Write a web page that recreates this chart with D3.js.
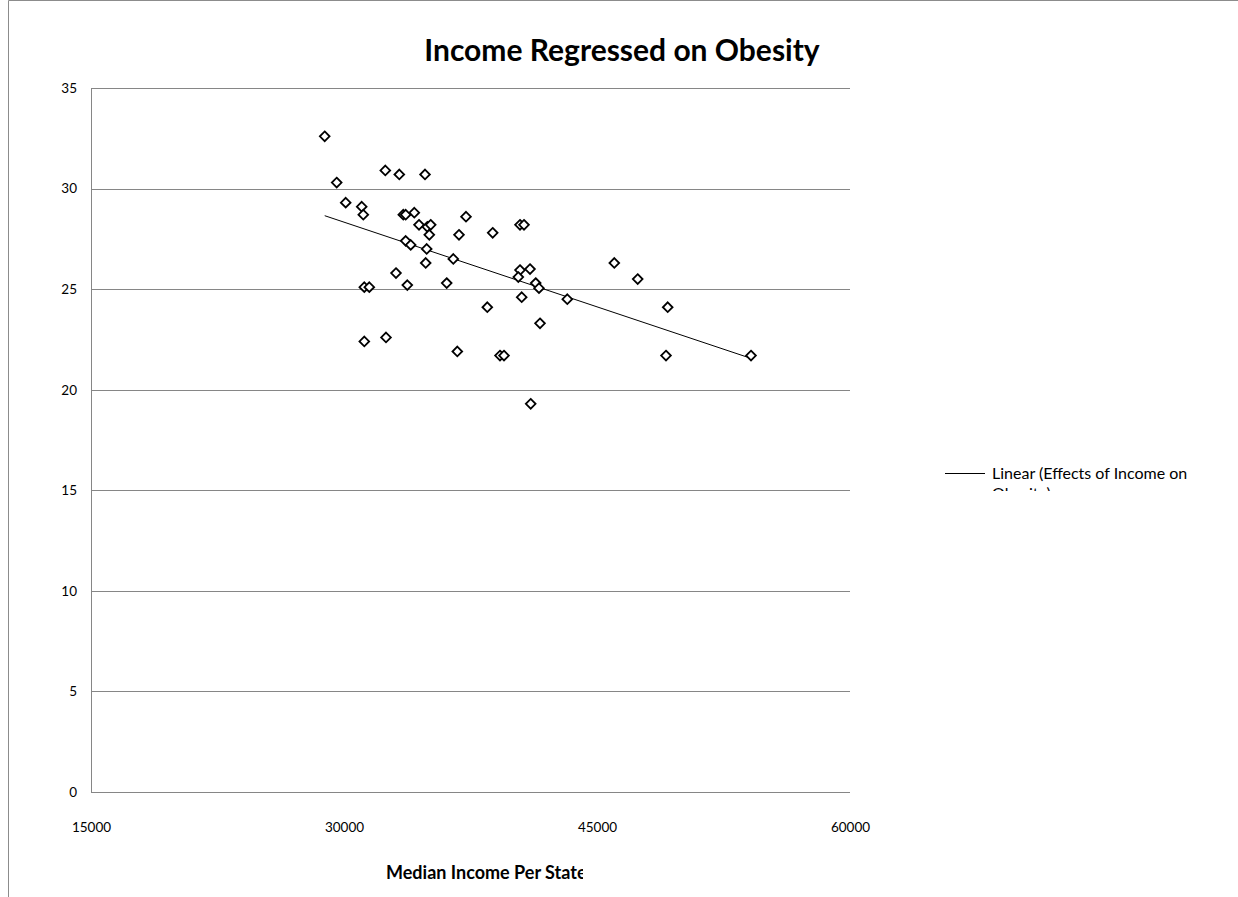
<!DOCTYPE html>
<html>
<head>
<meta charset="utf-8">
<script src="https://cdn.jsdelivr.net/npm/d3@7"></script>
<style>
  html, body { margin: 0; padding: 0; background: #fff; }
  svg { display: block; }
  text { font-family: Lato, "Open Sans", sans-serif; fill: #000; }
</style>
</head>
<body>
<svg id="chart" width="1238" height="897"></svg>
<script>
// Median household income per state (USD)
const income = [
  28856, 29567, 32449, 33279, 34803, 30101, 31050, 31144, 33516, 33658,
  34168, 34447, 34939, 35140, 35057, 37233, 36818, 38816, 33658, 33955,
  34903, 36480, 34844, 33083, 33753, 36089, 31204, 31500, 31204, 32490,
  40435, 40672, 40435, 41028, 40334, 41366, 41561, 40536, 38496, 43239,
  36718, 39249, 39486, 41621, 41069, 46026, 47413, 49192, 49091, 54131
];
// Adult obesity rate per state (%)
const obesity = [
  32.6, 30.3, 30.9, 30.7, 30.7, 29.3, 29.1, 28.7, 28.7, 28.7,
  28.8, 28.2, 28.1, 28.2, 27.7, 28.6, 27.7, 27.8, 27.4, 27.2,
  27.0, 26.5, 26.3, 25.8, 25.2, 25.3, 25.1, 25.1, 22.4, 22.6,
  28.2, 28.2, 25.95, 26.0, 25.6, 25.3, 25.05, 24.6, 24.1, 24.5,
  21.9, 21.7, 21.7, 23.3, 19.3, 26.3, 25.5, 24.1, 21.7, 21.7
];
const xTicks = [15000, 30000, 45000, 60000];
const yTicks = [0, 5, 10, 15, 20, 25, 30, 35];
const chartTitle = "Income Regressed on Obesity";
const xTitle = "Median Income Per State";
const legendLabel = ["Linear (Effects of Income on", "Obesity)"];

const svg = d3.select("#chart");
const W = 1238, H = 897;

// Chart area border (top and left edges show inside the frame)
svg.append("path")
  .attr("d", `M8.5,${H} L8.5,0.5 L${W},0.5`)
  .attr("fill", "none").attr("stroke", "#8c8c8c").attr("stroke-width", 1);

const plot = { left: 91, right: 850, top: 88, bottom: 792 };
const x = d3.scaleLinear().domain([15000, 60000]).range([plot.left, plot.right]);
const y = d3.scaleLinear().domain([0, 35]).range([plot.bottom, plot.top]);

// Horizontal gridlines
svg.append("g")
  .attr("transform", `translate(${plot.left},0)`)
  .call(d3.axisRight(y).tickValues(yTicks).tickSize(plot.right - plot.left).tickFormat(""))
  .call(g => g.select(".domain").remove())
  .call(g => g.selectAll("line").attr("stroke", "#868686").attr("shape-rendering", "crispEdges"));

// Vertical axis line
svg.append("line")
  .attr("x1", plot.left + 0.5).attr("x2", plot.left + 0.5)
  .attr("y1", plot.top).attr("y2", plot.bottom)
  .attr("stroke", "#868686");

// Y tick labels
svg.append("g")
  .attr("transform", `translate(${plot.left - 14},0)`)
  .call(d3.axisLeft(y).tickValues(yTicks).tickSize(0).tickPadding(0))
  .call(g => g.select(".domain").remove())
  .call(g => g.selectAll("text")
    .attr("font-size", 13.5).attr("font-family", "Lato, sans-serif").attr("fill", "#000"));

// X tick labels
svg.append("g")
  .attr("transform", `translate(0,${plot.bottom + 30})`)
  .call(d3.axisBottom(x).tickValues(xTicks).tickSize(0).tickPadding(0).tickFormat(d3.format("d")))
  .call(g => g.select(".domain").remove())
  .call(g => g.selectAll("text")
    .attr("font-size", 13.5).attr("font-family", "Lato, sans-serif").attr("fill", "#000"));

// Least-squares trend line over the observed income range
const n = income.length;
const mx = d3.mean(income), my = d3.mean(obesity);
let sxy = 0, sxx = 0;
for (let i = 0; i < n; i++) {
  sxy += (income[i] - mx) * (obesity[i] - my);
  sxx += (income[i] - mx) ** 2;
}
const slope = sxy / sxx, intercept = my - slope * mx;
const [xmin, xmax] = d3.extent(income);
svg.append("line")
  .attr("x1", x(xmin)).attr("y1", y(intercept + slope * xmin))
  .attr("x2", x(xmax)).attr("y2", y(intercept + slope * xmax))
  .attr("stroke", "#000").attr("stroke-width", 1);

// Diamond markers
const diamond = d3.symbol().type(d3.symbolDiamond2).size(60);
svg.append("g").selectAll("path")
  .data(d3.range(n))
  .join("path")
  .attr("d", diamond)
  .attr("transform", i => `translate(${x(income[i])},${y(obesity[i])})`)
  .attr("fill", "#fff").attr("stroke", "#000").attr("stroke-width", 1.8);

// Title
svg.append("text")
  .attr("x", 622).attr("y", 61)
  .attr("text-anchor", "middle")
  .attr("font-size", 30).attr("font-weight", "bold")
  .text(chartTitle);

// X axis title, cut off at the right edge of its box
svg.append("clipPath").attr("id", "xTitleClip")
  .append("rect").attr("x", 300).attr("y", 850).attr("width", 283).attr("height", 40);
svg.append("text")
  .attr("x", 386).attr("y", 879)
  .attr("font-size", 18).attr("font-weight", "bold")
  .attr("clip-path", "url(#xTitleClip)")
  .text(xTitle);

// Legend, second line cut off by the legend box
svg.append("line")
  .attr("x1", 945).attr("x2", 985).attr("y1", 473.5).attr("y2", 473.5)
  .attr("stroke", "#000").attr("stroke-width", 1);
svg.append("clipPath").attr("id", "legendClip")
  .append("rect").attr("x", 980).attr("y", 455).attr("width", 258).attr("height", 36);
const leg = svg.append("text")
  .attr("clip-path", "url(#legendClip)")
  .attr("font-size", 16);
leg.append("tspan").attr("x", 992).attr("y", 479).text(legendLabel[0]);
leg.append("tspan").attr("x", 992).attr("y", 499).text(legendLabel[1]);
</script>
</body>
</html>
